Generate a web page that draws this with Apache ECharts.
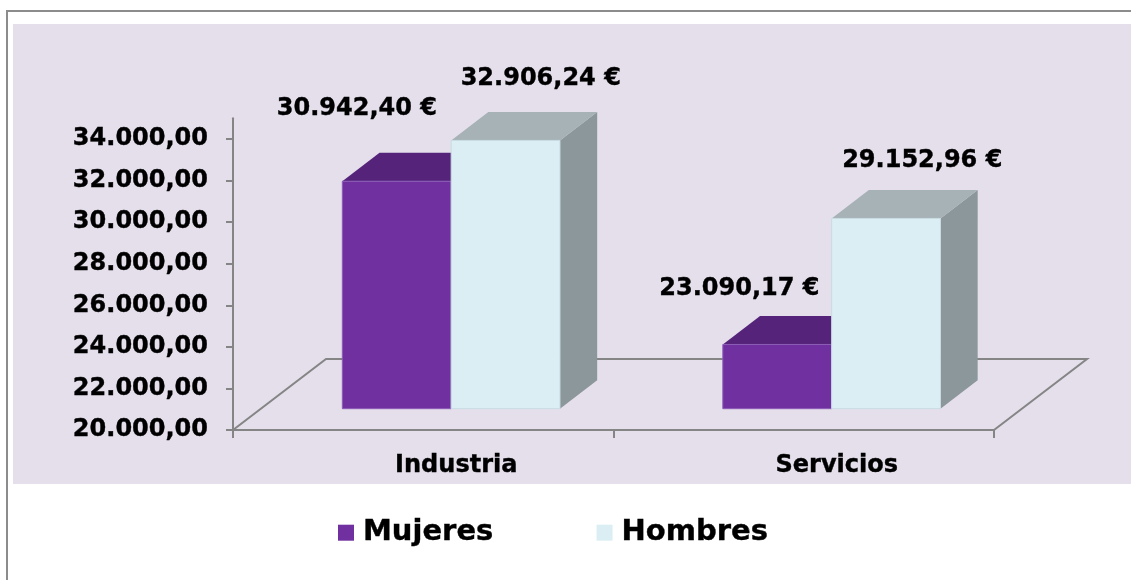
<!DOCTYPE html>
<html>
<head>
<meta charset="utf-8">
<script src="https://cdn.jsdelivr.net/npm/echarts@6/dist/echarts.min.js"></script>
<style>
html,body{margin:0;padding:0;background:#fff;}
#chart{width:1131px;height:580px;}
</style>
</head>
<body>
<div id="chart"></div>
<script>
// ---- data ----
const categories = ['Industria', 'Servicios'];
const seriesNames = ['Mujeres', 'Hombres'];
const mujeres = [30942.40, 23090.17];
const hombres = [32906.24, 29152.96];
const yTicks = [20000, 22000, 24000, 26000, 28000, 30000, 32000, 34000];

// ---- style ----
const FONT = 'DejaVu Sans';
const LINE = '#858585';
const DEPTH = [93, -71];        // full floor depth vector (px)
const BAR_FRONT = 0.30, BAR_BACK = 0.70;
const colors = {
  Mujeres: { front: '#7030A0', top: '#55247A', side: '#4A1F6B', edge: '#8A5CB5' },
  Hombres: { front: '#DBEEF4', top: '#A6B2B6', side: '#8C979B', edge: '#C8DCE2' }
};
const labelShift = {
  Mujeres: [[-77, -44], [-75, -27]],
  Hombres: [[-2, -33], [-1, -29]]
};
const textBold = { textBorderColor: '#000', textBorderWidth: 0.4 };

function fmtEs(v) {
  const parts = v.toFixed(2).split('.');
  parts[0] = parts[0].replace(/\B(?=(\d{3})+(?!\d))/g, '.');
  return parts[0] + ',' + parts[1];
}

function barRenderer(name, sIdx) {
  return function (params, api) {
    const cat = api.value(0), val = api.value(1);
    const p = api.coord([cat, val]);
    const p0 = api.coord([cat, 20000]);
    const bw = api.size([1, 0])[0] * 0.286;
    const fx = DEPTH[0] * BAR_FRONT, fy = DEPTH[1] * BAR_FRONT;
    const dx = DEPTH[0] * (BAR_BACK - BAR_FRONT), dy = DEPTH[1] * (BAR_BACK - BAR_FRONT);
    const x0 = p[0] + (sIdx === 0 ? -bw : 0) + fx;
    const x1 = x0 + bw;
    const yT = p[1] + fy, yB = p0[1] + fy;
    const c = colors[name];
    const sh = labelShift[name][params.dataIndex];
    return {
      type: 'group',
      children: [
        { type: 'polygon', shape: { points: [[x1, yT], [x1 + dx, yT + dy], [x1 + dx, yB + dy], [x1, yB]] },
          style: { fill: c.side } },
        { type: 'polygon', shape: { points: [[x0, yT], [x1, yT], [x1 + dx, yT + dy], [x0 + dx, yT + dy]] },
          style: { fill: c.top } },
        { type: 'rect', shape: { x: x0, y: yT, width: bw, height: yB - yT },
          style: { fill: c.front, stroke: c.edge, lineWidth: 1 } },
        { type: 'text', x: (x0 + x1) / 2 + dx + sh[0], y: yT + dy + sh[1],
          style: { text: fmtEs(val) + ' €', fill: '#000', font: 'bold 24px "' + FONT + '"',
                   align: 'center', verticalAlign: 'middle', stroke: '#000', lineWidth: 0.4 } }
      ]
    };
  };
}

const chart = echarts.init(document.getElementById('chart'));
chart.setOption({
  animation: false,
  backgroundColor: '#fff',
  graphic: [
    { type: 'rect', z: -10, shape: { x: 7, y: 11, width: 1300, height: 700 },
      style: { fill: '#fff', stroke: '#8C8C8C', lineWidth: 2 } },
    { type: 'rect', z: -9, shape: { x: 13, y: 24, width: 1130, height: 460 },
      style: { fill: '#E5DFEC' } }
  ],
  grid: { left: 233, top: 118.2, width: 761, height: 311.8 },
  legend: {
    data: seriesNames,
    left: 338, top: 518, padding: 0,
    icon: 'rect', itemWidth: 16, itemHeight: 16, itemGap: 103,
    textStyle: Object.assign({ fontFamily: FONT, fontWeight: 'bold', fontSize: 29, color: '#000',
                padding: [0, 0, 0, 4] }, textBold)
  },
  xAxis: {
    type: 'category', data: categories,
    axisLine: { lineStyle: { color: LINE, width: 2 } },
    axisTick: { show: true, length: 8, interval: 0, lineStyle: { color: LINE, width: 2 } },
    axisLabel: Object.assign({ fontFamily: FONT, fontWeight: 'bold', fontSize: 24, color: '#000', margin: 24,
                 padding: [0, 0, 0, 66] }, textBold),
    splitLine: { show: false }
  },
  yAxis: {
    type: 'value', min: 20000, max: 35000, interval: 2000,
    axisLine: { show: true, lineStyle: { color: LINE, width: 2 } },
    axisTick: { show: true, length: 7, customValues: yTicks, lineStyle: { color: LINE, width: 2 } },
    axisLabel: Object.assign({ customValues: yTicks, fontFamily: FONT, fontWeight: 'bold', fontSize: 24, color: '#000',
                 margin: 25, formatter: v => fmtEs(v) }, textBold),
    splitLine: { show: false }
  },
  series: [
    {
      name: 'floor', type: 'custom', silent: true, clip: false, z: 1,
      data: [0],
      renderItem: function (params) {
        const cs = params.coordSys;
        const xl = cs.x, xr = cs.x + cs.width, yb = cs.y + cs.height;
        return {
          type: 'polyline',
          shape: { points: [[xr, yb], [xr + DEPTH[0], yb + DEPTH[1]], [xl + DEPTH[0], yb + DEPTH[1]], [xl, yb]] },
          style: { stroke: LINE, lineWidth: 2, fill: null }
        };
      }
    },
    {
      name: 'Mujeres', type: 'custom', clip: false, z: 3,
      itemStyle: { color: colors.Mujeres.front },
      data: mujeres.map((v, i) => [i, v]),
      renderItem: barRenderer('Mujeres', 0)
    },
    {
      name: 'Hombres', type: 'custom', clip: false, z: 4,
      itemStyle: { color: colors.Hombres.front },
      data: hombres.map((v, i) => [i, v]),
      renderItem: barRenderer('Hombres', 1)
    }
  ]
});
</script>
</body>
</html>
